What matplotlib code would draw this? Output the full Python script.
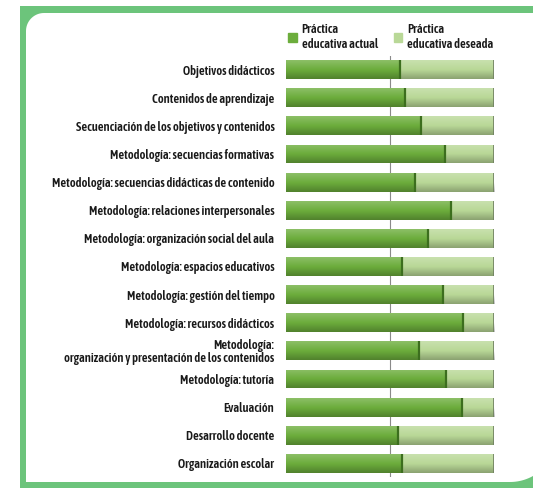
import numpy as np
import matplotlib
matplotlib.use("Agg")
import matplotlib.pyplot as plt
from matplotlib.patches import Rectangle, Patch
from matplotlib import font_manager

categories = [
    "Objetivos didácticos",
    "Contenidos de aprendizaje",
    "Secuenciación de los objetivos y contenidos",
    "Metodología: secuencias formativas",
    "Metodología: secuencias didácticas de contenido",
    "Metodología: relaciones interpersonales",
    "Metodología: organización social del aula",
    "Metodología: espacios educativos",
    "Metodología: gestión del tiempo",
    "Metodología: recursos didácticos",
    "Metodología:\norganización y presentación de los contenidos",
    "Metodología: tutoría",
    "Evaluación",
    "Desarrollo docente",
    "Organización escolar",
]
actual = [55, 57.5, 65, 76.5, 62, 79.5, 68.5, 56, 75.5, 85, 64, 77, 84.5, 54, 56]
deseada = [100 - v for v in actual]

names = sorted(set(f.name for f in font_manager.fontManager.ttflist))
narrow = [n for n in names if "Condensed" in n] + [n for n in names if "Narrow" in n]
plt.rcParams["font.family"] = narrow[:1] + ["DejaVu Sans"]

W, H = 533, 488
fig = plt.figure(figsize=(W / 100, H / 100), dpi=100)

# green frame pieces (pixel coordinates, y down)
green = "#6cc47b"
bg = fig.add_axes([0, 0, 1, 1], zorder=0)
bg.set_xlim(0, W)
bg.set_ylim(H, 0)
bg.axis("off")
bg.add_patch(Rectangle((20, 6), W - 20, 7, color=green, lw=0))
bg.add_patch(Rectangle((20, 6), 6, H - 6, color=green, lw=0))
bg.add_patch(Rectangle((20, 482), W - 20, 6, color=green, lw=0))
a1 = np.linspace(np.pi, 1.5 * np.pi, 20)
bg.fill(np.r_[26, 44 + 18 * np.cos(a1)], np.r_[13, 31 + 18 * np.sin(a1)], color=green, lw=0)
a2 = np.linspace(0, 0.5 * np.pi, 40)
px, py = 510 + 47 * np.cos(a2), 435 + 47 * np.sin(a2)
keep = px <= W + 1
bg.fill(np.r_[W, px[keep]], np.r_[482.5, py[keep]], color=green, lw=0)

ax = fig.add_axes([285.5 / W, 1 - 477.4 / H, 208.5 / W, (477.4 - 55.6) / H], zorder=1)
ax.set_facecolor("none")
y = np.arange(len(categories))
h = 0.67
c_act, c_des = "#6cad3c", "#b9d897"
b1 = ax.barh(y, actual, height=h, color=c_act, zorder=2)
b2 = ax.barh(y, deseada, left=actual, height=h, color=c_des, zorder=2)

# light top, darker bottom on every bar
t = np.linspace(0, 1, 40)
shade = np.zeros((40, 1, 4))
shade[:, 0, :3] = np.where(t < 0.5, 1.0, 0.0)[:, None]
shade[:, 0, 3] = np.where(t < 0.5, 0.22 * (1 - t / 0.5), 0.25 * (t - 0.5) / 0.5)
for bars in (b1, b2):
    for p in bars:
        x0, y0 = p.get_x(), p.get_y()
        im = ax.imshow(shade, aspect="auto", interpolation="bilinear",
                       extent=(x0, x0 + p.get_width(), y0 + p.get_height(), y0), zorder=3)
        im.set_clip_path(p)

ax.vlines(actual, y - h / 2, y + h / 2, color="#3c6e1e", lw=1.6, zorder=4)
ax.vlines([100] * len(y), y - h / 2, y + h / 2, color="#6f7f60", lw=1.2, zorder=4)
ax.axvline(50, color="#8a8a8a", lw=0.8, zorder=1)
ax.axvline(100, color="#c8c8c8", lw=0.6, zorder=1)

ax.set_xlim(0, 100)
ax.set_ylim(len(categories) - 0.5, -0.5)
ax.set_yticks(y)
ax.set_yticklabels(categories, fontsize=9, fontweight="semibold", color="#1a1a1a",
                   linespacing=1.0)
ax.tick_params(axis="y", length=0, pad=8)
ax.set_xticks([])
for s in ax.spines.values():
    s.set_visible(False)

leg = ax.legend(handles=[Patch(color=c_act, label="Práctica\neducativa actual"),
                         Patch(color=c_des, label="Práctica\neducativa deseada")],
                ncol=2, frameon=False, loc="lower left", bbox_to_anchor=(-0.01, 1.0),
                prop={"size": 9, "weight": "semibold"}, handlelength=0.65, handleheight=0.65,
                handletextpad=0.4, columnspacing=1.3, borderaxespad=0, labelspacing=0)
for txt in leg.get_texts():
    txt.set_linespacing(1.15)
    txt.set_color("#1a1a1a")

fig.savefig("out.png", dpi=100)
